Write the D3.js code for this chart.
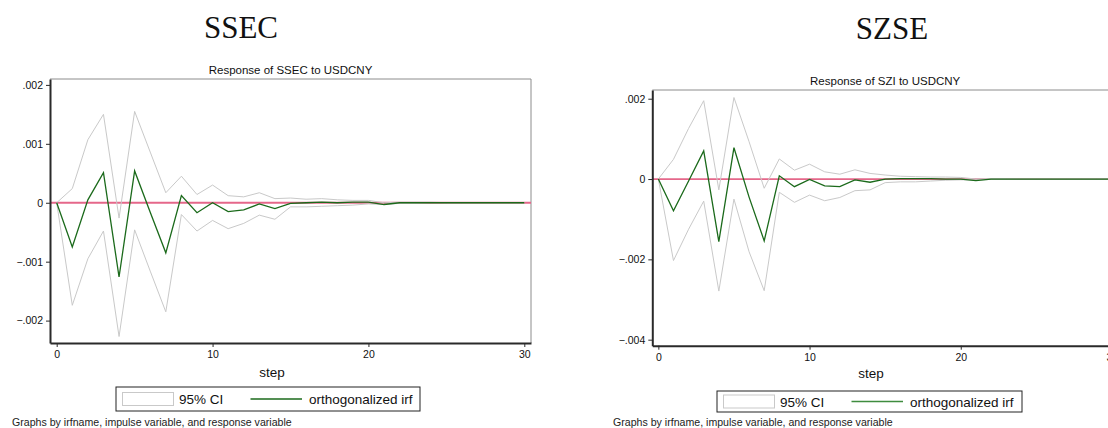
<!DOCTYPE html>
<html>
<head>
<meta charset="utf-8">
<script src="https://cdn.jsdelivr.net/npm/d3@7"></script>
<style>
  body { margin: 0; background: #fff; }
  svg { display: block; font-family: "Liberation Sans", Arial, sans-serif; }
</style>
</head>
<body>
<svg id="chart" width="1108" height="428"></svg>
<script>
// steps of the impulse response
const steps = [0, 1, 2, 3, 4, 5, 6, 7, 8, 9, 10, 11, 12, 13, 14, 15, 16, 17, 18, 19, 20, 21, 22, 23, 24, 25, 26, 27, 28, 29, 30];

// SSEC: response of SSEC to USDCNY
const ssecIrf   = [0, -0.00075, 0.00005, 0.00051, -0.00126, 0.00054, -0.00016, -0.00085, 0.00012, -0.00017, 0.0, -0.00015, -0.00012, -0.00002, -0.0001, -0.00001, 0.0, 0.00001, 0.0, 0.00001, 0.00001, -0.00003, 0.0, 0.0, 0.0, 0.0, 0.0, 0.0, 0.0, 0.0, 0.0];
const ssecUpper = [0, 0.00024, 0.00107, 0.0015, -0.00026, 0.00155, 0.00086, 0.00017, 0.00045, 0.00014, 0.0003, 0.00012, 0.0001, 0.00017, 0.00007, 0.00008, 0.00006, 0.00007, 0.00005, 0.00004, 0.00004, 0.0, 0.00001, 0.00001, 0.00001, 0.0, 0.0, 0.0, 0.0, 0.0, 0.0];
const ssecLower = [0, -0.00174, -0.00095, -0.00048, -0.00227, -0.00046, -0.00116, -0.00185, -0.0002, -0.00048, -0.0003, -0.00044, -0.00035, -0.00021, -0.00028, -0.00007, -0.00007, -0.00006, -0.00005, -0.00004, -0.00002, -0.00003, -0.00001, -0.00001, 0.0, 0.0, 0.0, 0.0, 0.0, 0.0, 0.0];

// SZSE: response of SZI to USDCNY
const sziIrf   = [0, -0.00079, -0.00005, 0.0007, -0.00156, 0.00078, -0.00045, -0.00154, 0.00008, -0.00019, -0.00001, -0.00017, -0.00019, -0.00002, -0.00008, 0.0, 0.00001, 0.00001, 0.00001, 0.0, 0.0, -0.00004, 0.0, 0.0, 0.0, 0.0, 0.0, 0.0, 0.0, 0.0, 0.0];
const sziUpper = [0, 0.00049, 0.00126, 0.00195, -0.00027, 0.00203, 0.00093, -0.00023, 0.0005, 0.00022, 0.00037, 0.00018, 0.00012, 0.00023, 0.00014, 0.0001, 0.00007, 0.00006, 0.00005, 0.00005, 0.00004, 0.0, 0.00001, 0.00001, 0.0, 0.0, 0.0, 0.0, 0.0, 0.0, 0.0];
const sziLower = [0, -0.00203, -0.00125, -0.00055, -0.00279, -0.0005, -0.00181, -0.00278, -0.00033, -0.00058, -0.0004, -0.00054, -0.00046, -0.00029, -0.00027, -0.00009, -0.00007, -0.00007, -0.00005, -0.00003, -0.00002, -0.00002, -0.00001, -0.00001, 0.0, 0.0, 0.0, 0.0, 0.0, 0.0, 0.0];

// tick labels
const xTicks = [0, 10, 20, 30];
const ssecYTicks = [0.002, 0.001, 0, -0.001, -0.002];
const sziYTicks = [0.002, 0, -0.002, -0.004];

const legendLabels = ["95% CI", "orthogonalized irf"];
const footnote = "Graphs by irfname, impulse variable, and response variable";

const CI_COLOR = "#c9c9c9";
const IRF_COLOR = "#1b6a1b";
const ZERO_COLOR = "#e5678a";

const svg = d3.select("#chart");

// Stata style numbers: .002, -.001, 0
const fmt = v => v === 0 ? "0" : d3.format(".3f")(v).replace("0.", ".");

const panels = [
    {
        heading: "SSEC", headingX: 241, headingY: 38,
        title: "Response of SSEC to USDCNY", titleY: 73.5,
        left: 50, right: 531, top: 79, bottom: 343,
        xDomain: [-0.43, 30.43], yDomain: [-0.00238, 0.0021],
        yTicks: ssecYTicks,
        irf: ssecIrf, upper: ssecUpper, lower: ssecLower,
        stepX: 272, stepY: 377,
        legend: {x: 116, y: 387, w: 304, h: 24}, legendColor: IRF_COLOR,
        noteX: 12
    },
    {
        heading: "SZSE", headingX: 892, headingY: 39,
        title: "Response of SZI to USDCNY", titleY: 85,
        left: 652.3, right: 1118, top: 90, bottom: 345.7,
        xDomain: [-0.4, 30.4], yDomain: [-0.00415, 0.002217],
        yTicks: sziYTicks,
        irf: sziIrf, upper: sziUpper, lower: sziLower,
        stepX: 871, stepY: 378,
        legend: {x: 717, y: 391, w: 305, h: 21}, legendColor: "#3f8c3f",
        noteX: 613
    }
];

panels.forEach(p => {
    const g = svg.append("g");

    const xScale = d3.scaleLinear().domain(p.xDomain).range([p.left, p.right]);
    const yScale = d3.scaleLinear().domain(p.yDomain).range([p.bottom, p.top]);

    // big heading above each graph
    g.append("text")
        .attr("x", p.headingX).attr("y", p.headingY)
        .attr("text-anchor", "middle")
        .style("font-family", "'Liberation Serif', 'Times New Roman', serif")
        .style("font-size", "31px")
        .attr("fill", "#111")
        .text(p.heading);

    g.append("text")
        .attr("x", (p.left + p.right) / 2).attr("y", p.titleY)
        .attr("text-anchor", "middle")
        .style("font-size", "11.5px")
        .attr("fill", "#111")
        .text(p.title);

    // plot region outline (top + right)
    g.append("path")
        .attr("d", `M${p.left},${p.top}H${p.right}V${p.bottom}`)
        .attr("fill", "none")
        .attr("stroke", "#8c8c8c")
        .attr("stroke-width", 1);

    const line = d3.line()
        .x((d, i) => xScale(steps[i]))
        .y(d => yScale(d));

    // zero reference line
    g.append("line")
        .attr("x1", p.left).attr("x2", p.right)
        .attr("y1", yScale(0)).attr("y2", yScale(0))
        .attr("stroke", ZERO_COLOR)
        .attr("stroke-width", 1.8);

    [p.upper, p.lower].forEach(series => {
        g.append("path")
            .datum(series)
            .attr("d", line)
            .attr("fill", "none")
            .attr("stroke", CI_COLOR)
            .attr("stroke-width", 1);
    });

    g.append("path")
        .datum(p.irf)
        .attr("d", line)
        .attr("fill", "none")
        .attr("stroke", IRF_COLOR)
        .attr("stroke-width", 1.3);

    // axes
    const yAxis = d3.axisLeft(yScale)
        .tickValues(p.yTicks)
        .tickFormat(fmt)
        .tickSize(4)
        .tickSizeOuter(0)
        .tickPadding(3);

    const xAxis = d3.axisBottom(xScale)
        .tickValues(xTicks)
        .tickFormat(d3.format("d"))
        .tickSize(4)
        .tickSizeOuter(0)
        .tickPadding(4);

    const ya = g.append("g")
        .attr("transform", "translate(" + p.left + ",0)")
        .call(yAxis);

    const xa = g.append("g")
        .attr("transform", "translate(0," + p.bottom + ")")
        .call(xAxis);

    [ya, xa].forEach(a => {
        a.select(".domain").attr("stroke", "#2a2a2a").attr("stroke-width", 2);
        a.selectAll(".tick line").attr("stroke", "#2a2a2a").attr("stroke-width", 1);
        a.selectAll(".tick text")
            .attr("fill", "#111")
            .style("font-family", "'Liberation Sans', Arial, sans-serif")
            .style("font-size", "10.5px");
    });

    // x title
    g.append("text")
        .attr("x", p.stepX).attr("y", p.stepY)
        .attr("text-anchor", "middle")
        .style("font-size", "13.5px")
        .attr("fill", "#111")
        .text("step");

    // legend
    const L = p.legend;
    const lg = g.append("g");
    lg.append("rect")
        .attr("x", L.x).attr("y", L.y)
        .attr("width", L.w).attr("height", L.h)
        .attr("fill", "#fff")
        .attr("stroke", "#222")
        .attr("stroke-width", 1);
    const midY = L.y + L.h / 2;
    lg.append("rect")
        .attr("x", L.x + 6.5).attr("y", midY - 6.5)
        .attr("width", 51).attr("height", 13)
        .attr("fill", "#fff")
        .attr("stroke", CI_COLOR)
        .attr("stroke-width", 1);
    lg.append("text")
        .attr("x", L.x + 63).attr("y", midY + 5)
        .style("font-size", "13.5px")
        .attr("fill", "#111")
        .text(legendLabels[0]);
    lg.append("line")
        .attr("x1", L.x + 134.5).attr("x2", L.x + 186)
        .attr("y1", midY).attr("y2", midY)
        .attr("stroke", p.legendColor)
        .attr("stroke-width", 1.5);
    lg.append("text")
        .attr("x", L.x + 193).attr("y", midY + 5)
        .style("font-size", "13.5px")
        .attr("fill", "#111")
        .text(legendLabels[1]);

    // note
    g.append("text")
        .attr("x", p.noteX).attr("y", 426)
        .style("font-size", "10.6px")
        .attr("fill", "#222")
        .text(footnote);
});
</script>
</body>
</html>
